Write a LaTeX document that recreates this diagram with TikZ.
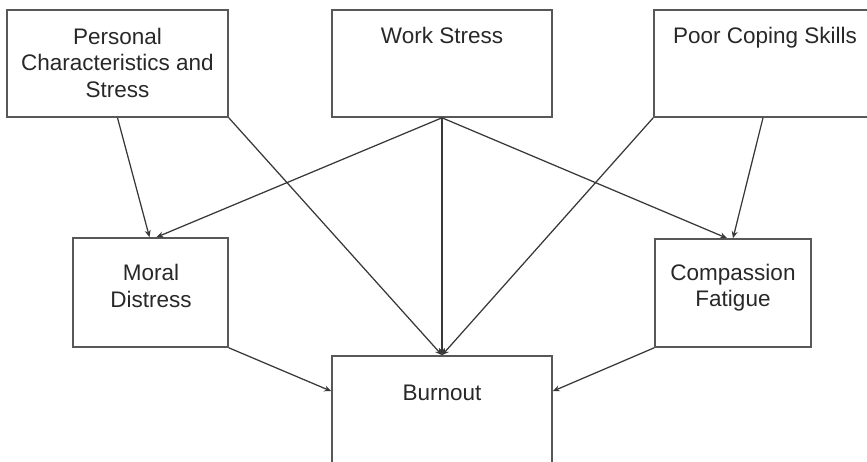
\documentclass[tikz,border=0pt]{standalone}
\usepackage{fontspec}
\setmainfont{Liberation Sans}
\usetikzlibrary{arrows.meta,calc}
\definecolor{boxgray}{RGB}{88,88,88}
\definecolor{linkgray}{RGB}{56,56,56}
\definecolor{txtgray}{RGB}{40,40,40}
\begin{document}
\begin{tikzpicture}[x=1pt,y=-1pt,
  box/.style={draw=boxgray, line width=1.6pt, rectangle, inner sep=0pt},
  lbl/.style={text=txtgray, font=\fontsize{22.5}{26.5}\selectfont, align=center, inner sep=0pt},
  link/.style={draw=linkgray, line width=1.25pt, -{Stealth[length=7pt,width=6pt]}}]
\useasboundingbox (0,0) rectangle (867,462);
\clip (0,0) rectangle (867,462);

% top row
\node[box, minimum width=221pt, minimum height=107pt] (pcs) at (117.5,63.5) {};
\node[lbl] (pcs-t) at (117.5,62.5) {Personal\\Characteristics and\\Stress};
\node[box, minimum width=220pt, minimum height=107pt] (ws) at (442,63.5) {};
\node[lbl, anchor=base] (ws-t) at (442,44) {Work Stress};
\node[box, minimum width=222pt, minimum height=107pt] (pc) at (765,63.5) {};
\node[lbl, anchor=base] (pc-t) at (765,44) {Poor Coping Skills};

% middle row
\node[box, minimum width=155pt, minimum height=109pt] (md) at (150.5,292.5) {};
\node[lbl] (md-t) at (151,286) {Moral\\Distress};
\node[box, minimum width=156pt, minimum height=108pt] (cf) at (733,293) {};
\node[lbl] (cf-t) at (733,287.8) {Compassion\\Fatigue};

% outcome
\node[box, minimum width=220pt, minimum height=107pt] (bo) at (442,409.5) {};
\node[lbl, anchor=base] (bo-t) at (442,400) {Burnout};

\coordinate (bo-l) at ($(bo.north west)+(0,36)$);
\coordinate (bo-r) at ($(bo.north east)+(0,36)$);

% connectors
\draw[link] (pcs.south) -- ($(md.north)+(-1,0)$);
\draw[link] (ws.south) -- ($(md.north)+(6,0)$);
\draw[link] (ws.south) -- ($(cf.north)+(-6,0)$);
\draw[link] ($(pc.south)+(-2,0)$) -- (cf.north);
\draw[link] (pcs.south east) -- (bo.north);
\draw[link] (ws.south) -- (bo.north);
\draw[link] (pc.south west) -- (bo.north);
\draw[link] (md.south east) -- (bo-l);
\draw[link] (cf.south west) -- (bo-r);
\end{tikzpicture}
\end{document}
